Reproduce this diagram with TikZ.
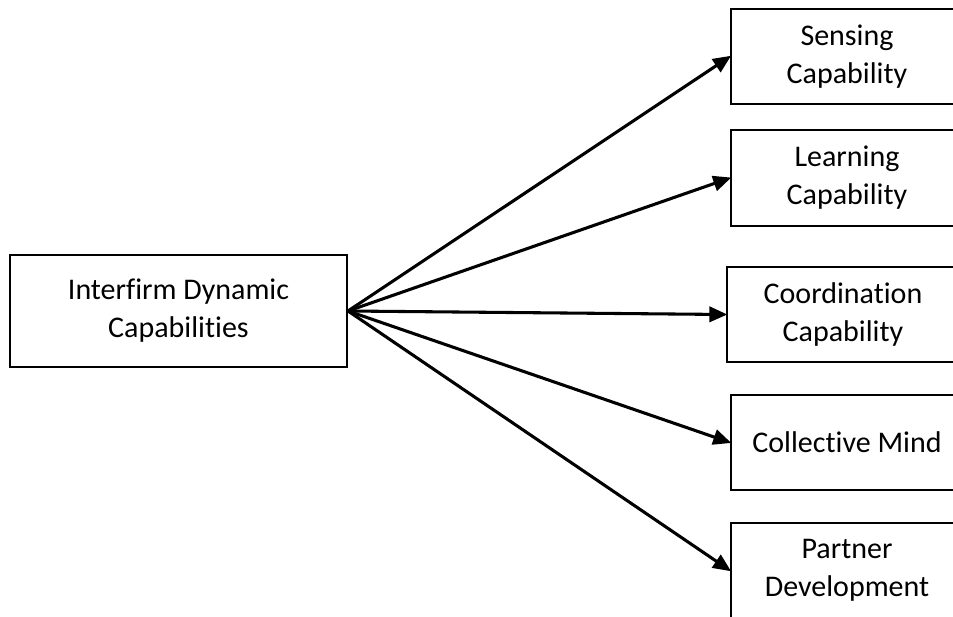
\documentclass[tikz,border=0pt]{standalone}
\usepackage{fontspec}
\setmainfont{Carlito}[Ligatures=CommonOff]
\usetikzlibrary{arrows.meta}
\tikzset{
  capbox/.style={draw, line width=1.5pt, align=center, inner sep=0pt,
    font=\fontsize{22.5}{28.5}\selectfont},
  rightbox/.style={capbox, minimum width=174pt, minimum height=71.5pt},
  link/.style={line width=2.3pt, -{Triangle[length=13.5pt,width=11.5pt]}, shorten >=-1pt}
}
\begin{document}
\begin{tikzpicture}[x=0.75pt, y=-0.75pt]
  \useasboundingbox (0,0) rectangle (953,617);
  \clip (0,0) rectangle (953,617);
  % source
  \node[capbox, minimum width=252.75pt, minimum height=84pt] (idc) at (178.5,311)
    {Interfirm Dynamic\\Capabilities};
  % targets (their right sides run past the frame)
  \node[rightbox] (sens) at (847,56.5) {Sensing\\Capability};
  \node[rightbox] (learn) at (847,178) {Learning\\Capability};
  \node[rightbox] (coord) at (843,314.5) {Coordination\\Capability};
  \node[rightbox] (mind) at (847,442.5) {Collective Mind};
  \node[rightbox] (partner) at (847,570.5) {Partner\\Development};
  % links
  \foreach \t in {sens,learn,coord,mind,partner}
    \draw[link] (idc.east) -- (\t.west);
\end{tikzpicture}
\end{document}
